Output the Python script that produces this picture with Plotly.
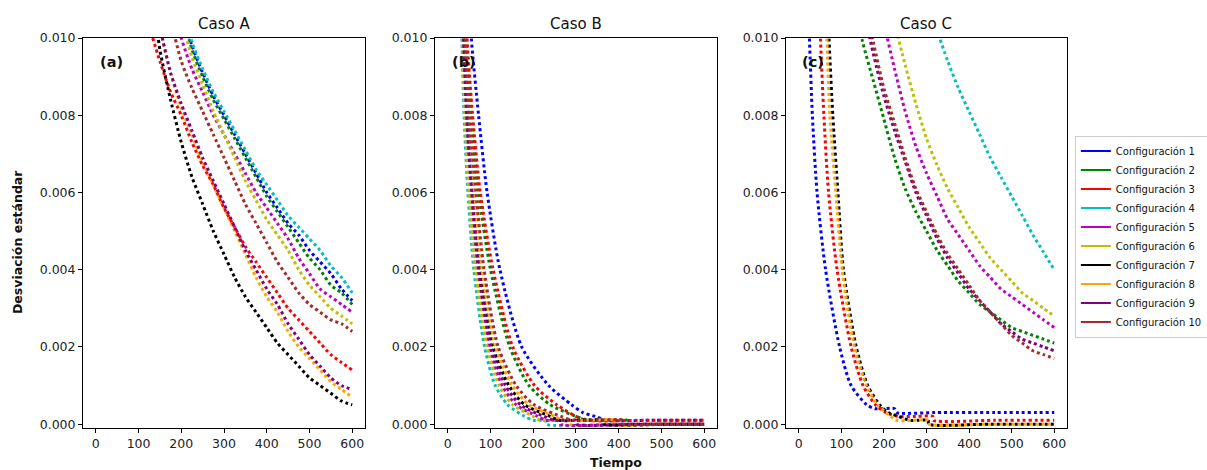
import plotly.graph_objects as go

config_names = ["Configuración 1", "Configuración 2", "Configuración 3", "Configuración 4",
                "Configuración 5", "Configuración 6", "Configuración 7", "Configuración 8",
                "Configuración 9", "Configuración 10"]
config_colors = ["#0000ff", "#008000", "#ff0000", "#00bfbf", "#bf00bf",
                 "#bfbf00", "#000000", "#ffa500", "#800080", "#a52a2a"]
panel_titles = ["Caso A", "Caso B", "Caso C"]
panel_tags = ["(a)", "(b)", "(c)"]
x_ticks = [0, 100, 200, 300, 400, 500, 600]
y_ticks = [0.000, 0.002, 0.004, 0.006, 0.008, 0.010]

# ---------------- Caso A (common time grid) ----------------
A_t = [125, 150, 175, 200, 225, 250, 275, 300, 325, 350, 375, 400, 425, 450, 475, 500, 525, 550, 575, 600]
A_c1 = [0.0143, 0.0130, 0.0119, 0.0109, 0.0098, 0.0091, 0.0085, 0.0080, 0.0075, 0.0070, 0.0065, 0.0060, 0.0056, 0.0052, 0.0049, 0.0045, 0.0042, 0.0039, 0.0035, 0.0032]
A_c2 = [0.0142, 0.0129, 0.0118, 0.0108, 0.0097, 0.0090, 0.0084, 0.0079, 0.0074, 0.0069, 0.0064, 0.0059, 0.0055, 0.0051, 0.0047, 0.0043, 0.0040, 0.0036, 0.0034, 0.0031]
A_c3 = [0.0103, 0.0094, 0.0086, 0.0080, 0.0073, 0.0067, 0.0062, 0.0056, 0.0051, 0.0046, 0.0042, 0.0038, 0.0034, 0.0030, 0.0027, 0.0024, 0.0021, 0.0018, 0.0016, 0.0014]
A_c4 = [0.0145, 0.0132, 0.0121, 0.0111, 0.0099, 0.0092, 0.0086, 0.0081, 0.0076, 0.0071, 0.0066, 0.0062, 0.0058, 0.0054, 0.0051, 0.0048, 0.0045, 0.0041, 0.0038, 0.0034]
A_c5 = [0.0135, 0.0122, 0.0111, 0.0100, 0.0092, 0.0086, 0.0080, 0.0075, 0.0070, 0.0065, 0.0060, 0.0056, 0.0052, 0.0048, 0.0043, 0.0039, 0.0035, 0.0033, 0.0031, 0.0029]
A_c6 = [0.0140, 0.0127, 0.0116, 0.0105, 0.0095, 0.0088, 0.0081, 0.0075, 0.0069, 0.0063, 0.0058, 0.0053, 0.0049, 0.0045, 0.0040, 0.0036, 0.0033, 0.0030, 0.0028, 0.0026]
A_c7 = [0.0118, 0.0097, 0.0084, 0.0073, 0.0064, 0.0057, 0.0050, 0.0044, 0.0038, 0.0033, 0.0029, 0.0025, 0.0021, 0.0018, 0.0015, 0.0012, 0.0010, 0.0008, 0.0006, 0.0005]
A_c8 = [0.0120, 0.0103, 0.0091, 0.0082, 0.0075, 0.0068, 0.0062, 0.0056, 0.0050, 0.0044, 0.0038, 0.0033, 0.0029, 0.0024, 0.0020, 0.0017, 0.0014, 0.0011, 0.0009, 0.0007]
A_c9 = [0.0120, 0.0103, 0.0091, 0.0083, 0.0076, 0.0069, 0.0063, 0.0057, 0.0051, 0.0045, 0.0040, 0.0035, 0.0031, 0.0026, 0.0022, 0.0018, 0.0015, 0.0012, 0.0010, 0.0009]
A_c10 = [0.0130, 0.0118, 0.0105, 0.0094, 0.0087, 0.0081, 0.0075, 0.0069, 0.0063, 0.0057, 0.0052, 0.0047, 0.0042, 0.0038, 0.0034, 0.0031, 0.0029, 0.0027, 0.0026, 0.0024]

# ---------------- Caso B (per-curve times / values) ----------------
B_t1 = [46, 55, 72, 92, 122, 173, 236, 290, 316, 345, 370, 480, 600]
B_v1 = [0.012, 0.010, 0.008, 0.006, 0.004, 0.002, 0.001, 0.0005, 0.0003, 0.0002, 0.0001, 0.0001, 0.0001]
B_t2 = [37, 43, 55, 72, 100, 145, 190, 240, 300, 330, 375, 419, 420, 510, 600]
B_v2 = [0.012, 0.010, 0.008, 0.006, 0.004, 0.002, 0.001, 0.0005, 0.0002, 0.0001, 0.0001, 0.0001, 0.0, 0.0, 0.0]
B_t3 = [39, 45, 58, 76, 106, 152, 203, 255, 300, 325, 460, 600]
B_v3 = [0.012, 0.010, 0.008, 0.006, 0.004, 0.002, 0.001, 0.0005, 0.0002, 0.0001, 0.0001, 0.0001]
B_t4 = [29, 33, 38, 47, 61, 86, 111, 140, 180, 200, 215, 229, 230, 415, 600]
B_v4 = [0.012, 0.010, 0.008, 0.006, 0.004, 0.002, 0.001, 0.0005, 0.0002, 0.0001, 0.0001, 0.0001, 0.0, 0.0, 0.0]
B_t5 = [31, 35, 42, 53, 68, 96, 127, 160, 210, 230, 247, 264, 265, 430, 600]
B_v5 = [0.012, 0.010, 0.008, 0.006, 0.004, 0.002, 0.001, 0.0005, 0.0002, 0.0001, 0.0001, 0.0001, 0.0, 0.0, 0.0]
B_t6 = [30, 34, 40, 50, 65, 92, 120, 152, 200, 215, 250, 285, 286, 440, 600]
B_v6 = [0.012, 0.010, 0.008, 0.006, 0.004, 0.002, 0.001, 0.0005, 0.0002, 0.0001, 0.0001, 0.0001, 0.0, 0.0, 0.0]
B_t7 = [33, 38, 46, 59, 76, 106, 143, 180, 240, 260, 312, 364, 365, 480, 600]
B_v7 = [0.012, 0.010, 0.008, 0.006, 0.004, 0.002, 0.001, 0.0005, 0.0002, 0.0001, 0.0001, 0.0001, 0.0, 0.0, 0.0]
B_t8 = [35, 40, 48, 62, 80, 112, 151, 190, 250, 270, 330, 389, 390, 495, 600]
B_v8 = [0.012, 0.010, 0.008, 0.006, 0.004, 0.002, 0.001, 0.0005, 0.0002, 0.0001, 0.0001, 0.0001, 0.0, 0.0, 0.0]
B_t9 = [32, 37, 44, 56, 72, 101, 135, 170, 225, 250, 275, 300, 301, 450, 600]
B_v9 = [0.012, 0.010, 0.008, 0.006, 0.004, 0.002, 0.001, 0.0005, 0.0002, 0.0001, 0.0001, 0.0001, 0.0, 0.0, 0.0]
B_t10 = [36, 41, 50, 66, 85, 118, 160, 202, 265, 290, 350, 409, 410, 505, 600]
B_v10 = [0.012, 0.010, 0.008, 0.006, 0.004, 0.002, 0.001, 0.0005, 0.0002, 0.0001, 0.0001, 0.0001, 0.0, 0.0, 0.0]

# ---------------- Caso C ----------------
C_t = [125, 150, 175, 200, 225, 250, 275, 300, 325, 350, 375, 400, 425, 450, 475, 500, 525, 550, 575, 600]
C_c2 = [0.0112, 0.0099, 0.0089, 0.0079, 0.0069, 0.0061, 0.0055, 0.0050, 0.0045, 0.0041, 0.0037, 0.0034, 0.0031, 0.0029, 0.0027, 0.0025, 0.0024, 0.0023, 0.0022, 0.0021]
C_c4 = [0.0220, 0.0200, 0.0180, 0.0165, 0.0150, 0.0137, 0.0124, 0.0112, 0.0102, 0.0094, 0.0087, 0.0081, 0.0075, 0.0069, 0.0064, 0.0059, 0.0054, 0.0049, 0.00445, 0.0040]
C_c5 = [0.0155, 0.0135, 0.0118, 0.0104, 0.0092, 0.0081, 0.0072, 0.0065, 0.0059, 0.0053, 0.0049, 0.0045, 0.0041, 0.0038, 0.0035, 0.0033, 0.0031, 0.0029, 0.0027, 0.0025]
C_c6 = [0.0160, 0.0145, 0.0130, 0.0117, 0.0104, 0.0093, 0.0083, 0.0074, 0.0067, 0.0061, 0.0056, 0.0051, 0.0047, 0.0043, 0.0040, 0.0037, 0.0034, 0.0032, 0.0030, 0.0028]
C_c9 = [0.0125, 0.0109, 0.0096, 0.0085, 0.0076, 0.0068, 0.0060, 0.0054, 0.0048, 0.0043, 0.0039, 0.0035, 0.0032, 0.0029, 0.0026, 0.0024, 0.0022, 0.0021, 0.0020, 0.0019]
C_c10 = [0.0128, 0.0112, 0.0099, 0.0087, 0.0078, 0.0069, 0.0061, 0.0055, 0.0049, 0.0044, 0.0040, 0.0036, 0.0032, 0.0029, 0.0026, 0.0023, 0.0021, 0.0019, 0.0018, 0.0017]
C_t1 = [18, 25, 32, 43, 63, 96, 123, 160, 180, 225, 230, 320, 460, 600]
C_v1 = [0.012, 0.010, 0.008, 0.006, 0.004, 0.002, 0.001, 0.0005, 0.0004, 0.0004, 0.0003, 0.0003, 0.0003, 0.0003]
C_t3 = [45, 51, 59, 70, 90, 123, 151, 180, 205, 235, 275, 315, 316, 460, 600]
C_v3 = [0.012, 0.010, 0.008, 0.006, 0.004, 0.002, 0.001, 0.0005, 0.0003, 0.0002, 0.0002, 0.0002, 0.0001, 0.0001, 0.0001]
C_t7 = [65, 71, 80, 92, 105, 135, 162, 190, 210, 235, 260, 282, 304, 305, 450, 600]
C_v7 = [0.012, 0.010, 0.008, 0.006, 0.004, 0.002, 0.001, 0.0005, 0.0003, 0.0002, 0.0001, 0.0001, 0.0001, 0.0, 0.0, 0.0]
C_t8 = [60, 66, 73, 87, 102, 131, 159, 185, 205, 230, 268, 305, 306, 450, 600]
C_v8 = [0.012, 0.010, 0.008, 0.006, 0.004, 0.002, 0.001, 0.0005, 0.0003, 0.0001, 0.0001, 0.0001, 0.0, 0.0, 0.0]

panel_A = [(A_t, A_c1), (A_t, A_c2), (A_t, A_c3), (A_t, A_c4), (A_t, A_c5),
           (A_t, A_c6), (A_t, A_c7), (A_t, A_c8), (A_t, A_c9), (A_t, A_c10)]
panel_B = [(B_t1, B_v1), (B_t2, B_v2), (B_t3, B_v3), (B_t4, B_v4), (B_t5, B_v5),
           (B_t6, B_v6), (B_t7, B_v7), (B_t8, B_v8), (B_t9, B_v9), (B_t10, B_v10)]
panel_C = [(C_t1, C_v1), (C_t, C_c2), (C_t3, C_v3), (C_t, C_c4), (C_t, C_c5),
           (C_t, C_c6), (C_t7, C_v7), (C_t8, C_v8), (C_t, C_c9), (C_t, C_c10)]

FONT = "DejaVu Sans"
fig = go.Figure()
suffixes = ["", "2", "3"]
for p, series in enumerate([panel_A, panel_B, panel_C]):
    for i, (t, v) in enumerate(series):
        fig.add_trace(go.Scatter(
            x=t, y=v, mode="lines", showlegend=False, hoverinfo="skip",
            line=dict(color=config_colors[i], width=3, dash="dot", shape="spline", smoothing=0.7),
            xaxis="x" + suffixes[p], yaxis="y" + suffixes[p]))

# legend entries (solid samples)
for i, name in enumerate(config_names):
    fig.add_trace(go.Scatter(x=[None], y=[None], mode="lines", name=name,
                             line=dict(color=config_colors[i], width=2),
                             xaxis="x3", yaxis="y3"))

domains = [[0.0, 0.2866], [0.3577, 0.6443], [0.7144, 1.0]]
axis_style = dict(showline=True, linecolor="black", linewidth=1, mirror=True,
                  ticks="outside", ticklen=4, tickcolor="black", tickwidth=1,
                  showgrid=False, zeroline=False,
                  tickfont=dict(family=FONT, size=12.5, color="#222"))
layout = dict(
    width=1207, height=470,
    margin=dict(l=83, r=140, t=38, b=42, autoexpand=False),
    plot_bgcolor="white", paper_bgcolor="white",
    font=dict(family=FONT, color="#111"),
    legend=dict(x=1.008, xanchor="left", y=0.75, yanchor="top",
                font=dict(family=FONT, size=10, color="#111"),
                bgcolor="white", bordercolor="#cccccc", borderwidth=1,
                itemwidth=30, tracegroupgap=0),
)
for p in range(3):
    s = suffixes[p]
    layout["xaxis" + s] = dict(domain=domains[p], range=[-30, 630], tickvals=x_ticks,
                               anchor="y" + s, **axis_style)
    layout["yaxis" + s] = dict(domain=[0, 1], range=[-0.0001, 0.010001], tickvals=y_ticks,
                               tickformat=".3f", anchor="x" + s, **axis_style)
fig.update_layout(**layout)

ann = []
for p in range(3):
    cx = (domains[p][0] + domains[p][1]) / 2
    ann.append(dict(text=panel_titles[p], x=cx, y=1.037, xref="paper", yref="paper",
                    xanchor="center", yanchor="middle", showarrow=False,
                    font=dict(family=FONT, size=15, color="#111")))
tag_x = [0.0152, 0.373, 0.7287]
for p in range(3):
    ann.append(dict(text="<b>" + panel_tags[p] + "</b>", x=tag_x[p], y=0.9385,
                    xref="paper", yref="paper", xanchor="left", yanchor="middle",
                    showarrow=False, font=dict(family=FONT, size=14.5, color="#111")))
ann.append(dict(text="<b>Desviación estándar</b>", x=-0.066, y=0.477, xref="paper", yref="paper",
                xanchor="center", yanchor="middle", textangle=-90, showarrow=False,
                font=dict(family=FONT, size=12.5, color="#111")))
ann.append(dict(text="<b>Tiempo</b>", x=0.5417, y=-0.0897, xref="paper", yref="paper",
                xanchor="center", yanchor="middle", showarrow=False,
                font=dict(family=FONT, size=12.5, color="#111")))
fig.update_layout(annotations=ann)

fig.write_html("out.html")
